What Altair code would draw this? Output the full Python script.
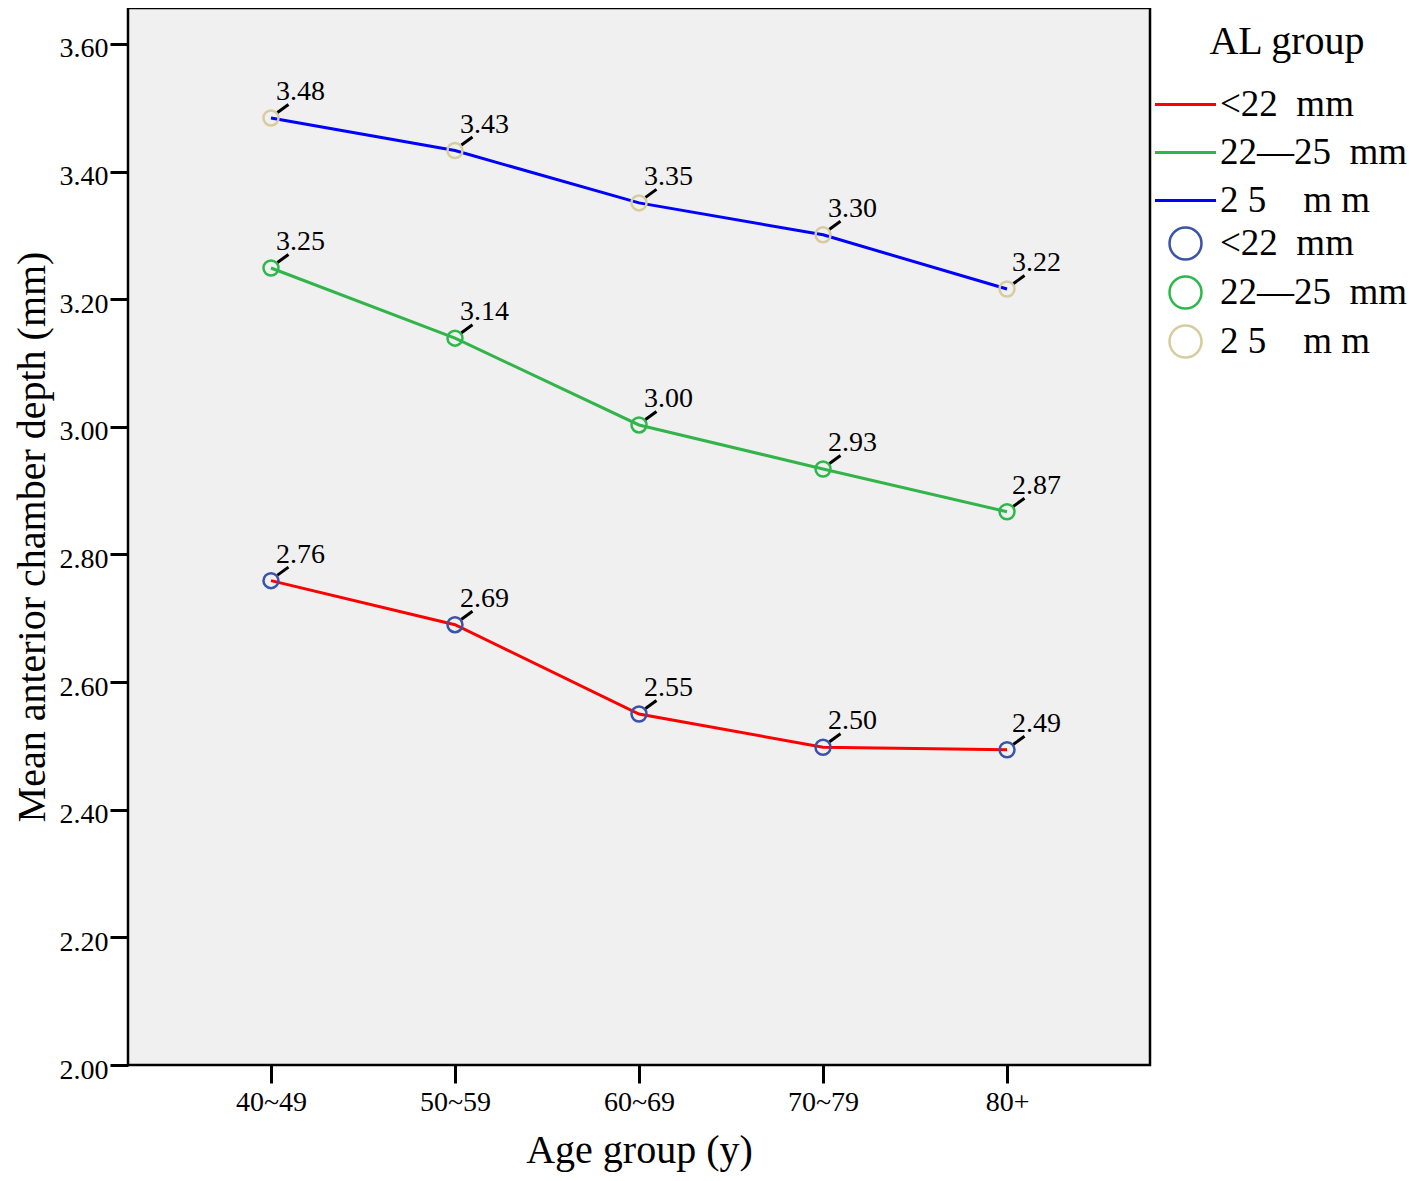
import altair as alt
import pandas as pd

NB = "\u00a0"
ages = ["40~49", "50~59", "60~69", "70~79", "80+"]
groups = ["<22" + NB * 2 + "mm", "22\u201425" + NB * 2 + "mm", "2" + NB + "5" + NB * 4 + "m" + NB + "m"]
vals_lt22 = [2.759, 2.690, 2.550, 2.498, 2.494]
vals_22_25 = [3.249, 3.139, 3.003, 2.934, 2.867]
vals_gt25 = [3.484, 3.433, 3.351, 3.301, 3.216]
line_colors = ["#ff0000", "#33b44a", "#0000ff"]
point_colors = ["#3a53a8", "#2db84b", "#d6cc9e"]
y_ticks = [2.0, 2.2, 2.4, 2.6, 2.8, 3.0, 3.2, 3.4, 3.6]

rows = []
for g, vals in zip(groups, [vals_lt22, vals_22_25, vals_gt25]):
    for a, v in zip(ages, vals):
        rows.append({"age": a, "group": g, "marker": g, "value": v})
df = pd.DataFrame(rows)

FONT = "Liberation Serif"

x = alt.X("age:N", sort=ages,
          scale=alt.Scale(type="point", padding=0.777),
          axis=alt.Axis(title="Age group (y)", labelAngle=0, labelFontSize=28, labelFont=FONT,
                        labelColor="black", tickSize=18, tickWidth=3, tickColor="black",
                        labelPadding=5, domain=False, titleFontSize=40, titleFont=FONT,
                        titleFontWeight="normal", titleColor="black", titlePadding=14))
y = alt.Y("value:Q",
          scale=alt.Scale(domain=[2.0, 3.6564], nice=False, zero=False),
          axis=alt.Axis(title="Mean anterior chamber depth (mm)", values=y_ticks, format=".2f",
                        labelFontSize=28, labelFont=FONT, labelColor="black", tickSize=18,
                        tickWidth=3, tickColor="black", labelPadding=2, labelOffset=5,
                        domain=False, grid=False, titleFontSize=40, titleFont=FONT,
                        titleFontWeight="normal", titleColor="black", titlePadding=7))

base = alt.Chart(df)

lines = base.mark_line(strokeWidth=3).encode(
    x=x, y=y,
    color=alt.Color("group:N", scale=alt.Scale(domain=groups, range=line_colors),
                    legend=alt.Legend(title="AL group", orient="none", legendX=1039, legendY=14,
                                      symbolType="M-4.07,0L4.07,0", symbolSize=225,
                                      symbolStrokeWidth=3, labelOffset=16, labelFontSize=37,
                                      labelFont=FONT, labelColor="black", labelLimit=400,
                                      titleFontSize=40, titleFont=FONT, titleFontWeight="normal",
                                      titleColor="black", titleAnchor="middle", titlePadding=24,
                                      rowPadding=10)),
)

points = base.mark_point(shape="circle", size=225, strokeWidth=2.5, filled=False, opacity=1).encode(
    x=x, y=y,
    stroke=alt.Stroke("marker:N", scale=alt.Scale(domain=groups, range=point_colors),
                      legend=alt.Legend(title=None, orient="none", legendX=1039, legendY=217,
                                        symbolType="circle", symbolSize=1024,
                                        symbolStrokeWidth=2.5, labelOffset=16, labelFontSize=37,
                                        labelFont=FONT, labelColor="black", labelLimit=400,
                                        rowPadding=6)),
)

leaders = base.mark_point(shape="M-5.5,4L5.5,-4", size=4, strokeWidth=3, filled=False,
                          color="black", opacity=1, xOffset=12, yOffset=-9.5).encode(x=x, y=y)

labels = base.mark_text(align="left", baseline="alphabetic", dx=5, dy=-18, fontSize=28,
                        font=FONT, color="black").encode(
    x=x, y=y, text=alt.Text("value:Q", format=".2f"))

chart = alt.layer(lines, points, leaders, labels).resolve_scale(
    color="independent", stroke="independent"
).resolve_legend(color="independent", stroke="independent").properties(
    width=1022, height=1057,
    autosize=alt.AutoSizeParams(type="none"),
    padding={"left": 120, "top": 0, "right": 260, "bottom": 113},
    background="white",
).configure_view(fill="#f0f0f0", stroke="black", strokeWidth=2.5)

chart.save("out.html", embed_options={"renderer": "svg", "actions": False})
